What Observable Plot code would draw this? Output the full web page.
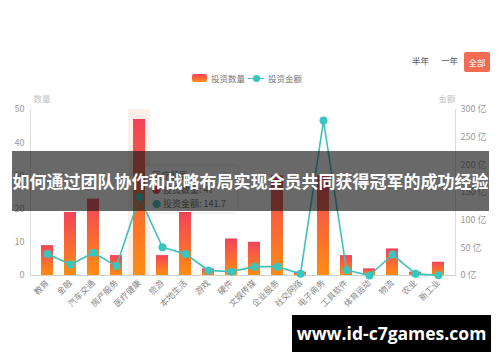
<!DOCTYPE html>
<html>
<head>
<meta charset="utf-8">
<script src="https://cdn.jsdelivr.net/npm/d3@7"></script>
<script src="https://cdn.jsdelivr.net/npm/@observablehq/plot@0.6"></script>
<style>
  html, body { margin: 0; padding: 0; background: #fff; }
  #wrap { position: relative; width: 500px; height: 362px; overflow: hidden; font-family: "Noto Sans CJK SC", "Noto Sans", sans-serif; }
  #chart { position: absolute; left: 0; top: 0; }
  .ov { position: absolute; white-space: nowrap; }
</style>
</head>
<body>
<div id="wrap">
  <div id="chart"></div>
  <!-- legend -->
  <div class="ov" style="left:192px;top:74px;width:15px;height:8px;border-radius:2px;background:linear-gradient(#f2435a,#ff8c1a);"></div>
  <div class="ov" style="left:211px;top:72px;font-size:8.5px;color:#777;">投资数量</div>
  <div class="ov" style="left:248px;top:77.5px;width:16px;height:1.5px;background:#3ec1bb;"></div>
  <div class="ov" style="left:252.5px;top:74.5px;width:7px;height:7px;border-radius:50%;background:#37c6c0;"></div>
  <div class="ov" style="left:268px;top:72px;font-size:8.5px;color:#777;">投资金额</div>
  <!-- period buttons -->
  <div class="ov" style="left:412px;top:54px;font-size:8.5px;color:#555;">半年</div>
  <div class="ov" style="left:441px;top:54px;font-size:8.5px;color:#555;">一年</div>
  <div class="ov" style="left:464px;top:52px;width:26px;height:20px;border-radius:2px;background:#f26b55;color:#fff;font-size:8.5px;line-height:20px;text-align:center;">全部</div>
  <!-- tooltip -->
  <div class="ov" style="left:145px;top:166px;width:92px;height:46px;background:rgba(255,255,255,0.95);border-radius:3px;box-shadow:0 0 4px rgba(0,0,0,0.15);font-size:9px;color:#666;line-height:14px;padding:3px 0 0 7px;box-sizing:border-box;">
    <div>医疗健康</div>
    <div><span style="color:#e8404f;">●</span> 投资数量: 47</div>
    <div><span style="color:#37c6c0;">●</span> 投资金额: 141.7</div>
  </div>
  <!-- title banner -->
  <div class="ov" style="left:12px;top:151px;width:477px;height:60px;background:rgba(20,20,20,0.64);"></div>
  <div class="ov" style="left:12px;top:169px;width:477px;text-align:center;font-size:17px;font-weight:bold;color:#fff;line-height:24px;">如何通过团队协作和战略布局实现全员共同获得冠军的成功经验</div>
  <!-- watermark -->
  <div class="ov" style="left:292px;top:315px;width:199px;height:37px;background:#000;color:#fff;font-family:'Open Sans',sans-serif;font-weight:bold;font-size:17.5px;line-height:37px;text-align:center;">www.id-c7games.com</div>
</div>
<script>
const categories = ["教育","金融","汽车交通","房产服务","医疗健康","旅游","本地生活","游戏","硬件","文娱传媒","企业服务","社交网络","电子商务","工具软件","体育运动","物流","农业","新工业"];
const counts = [9,19,23,6,47,6,19,2,11,10,30,1,30,6,2,8,1,4];
const amounts = [39,20,41,17,141.7,51,39,9,7,16,16,3,280,10,0,38,3,0.5];
const leftTicks = [0,10,20,30,40,50];
const rightTicks = [0,50,100,150,200,250,300];
const highlight = ["医疗健康"];
const ratio = 300 / 50;

const table = categories.map((c, i) => ({cat: c, count: counts[i], amount: amounts[i]}));

const chart = Plot.plot({
  width: 500,
  height: 362,
  marginTop: 109,
  marginBottom: 87,
  marginLeft: 30,
  marginRight: 45,
  x: {domain: categories, paddingInner: 0.49, paddingOuter: 0.245, label: null},
  y: {domain: [0, 50], label: null},
  style: {fontFamily: "'Noto Sans CJK SC', 'Noto Sans', sans-serif", fontSize: "9px", color: "#888", background: "transparent", overflow: "visible"},
  marks: [
    Plot.barY(highlight, {x: d => d, y1: 0, y2: 50, fill: "#fdf0e9", insetLeft: -5, insetRight: -5}),
    Plot.frame({anchor: "left", stroke: "#dcdcdc"}),
    Plot.frame({anchor: "right", stroke: "#dcdcdc"}),
    Plot.ruleY([0], {stroke: "#d0d0d0"}),
    Plot.barY(table, {x: "cat", y: "count", fill: "url(#barGrad)"}),
    Plot.line(table, {x: "cat", y: d => d.amount / ratio, stroke: "#3ec1bb", strokeWidth: 1.6}),
    Plot.dot(table, {x: "cat", y: d => d.amount / ratio, r: 4, fill: "#37c6c0", stroke: "none"}),
    Plot.axisY(leftTicks, {anchor: "left", tickSize: 0, tickPadding: 6, label: null, fill: "#999"}),
    Plot.axisY(rightTicks.map(v => v / ratio), {anchor: "right", tickSize: 0, tickPadding: 5, label: null, fill: "#999", tickFormat: d => `${Math.round(d * ratio)} 亿`}),
    Plot.axisX({tickRotate: -45, tickSize: 0, tickPadding: 6, label: null, fill: "#888", fontSize: 8.5}),
    Plot.text(["数量"], {frameAnchor: "top-left", dx: 3, dy: -14, fill: "#c4c4c4", fontSize: 8.5}),
    Plot.text(["金额"], {frameAnchor: "top-right", dx: 0, dy: -14, fill: "#c4c4c4", fontSize: 8.5})
  ]
});

const ns = "http://www.w3.org/2000/svg";
const defs = document.createElementNS(ns, "defs");
const grad = document.createElementNS(ns, "linearGradient");
grad.setAttribute("id", "barGrad");
grad.setAttribute("x1", "0"); grad.setAttribute("y1", "0");
grad.setAttribute("x2", "0"); grad.setAttribute("y2", "1");
[["0%", "#f2435a"], ["100%", "#ff8c12"]].forEach(([o, c]) => {
  const s = document.createElementNS(ns, "stop");
  s.setAttribute("offset", o);
  s.setAttribute("stop-color", c);
  grad.appendChild(s);
});
defs.appendChild(grad);
chart.insertBefore(defs, chart.firstChild);
document.getElementById("chart").appendChild(chart);
</script>
</body>
</html>
